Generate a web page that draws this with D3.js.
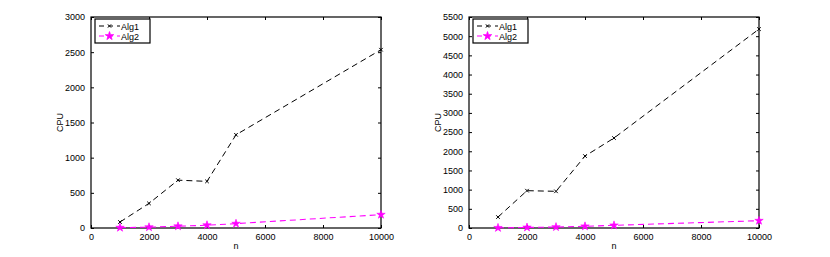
<!DOCTYPE html>
<html>
<head>
<meta charset="utf-8">
<script src="https://cdn.jsdelivr.net/npm/d3@7"></script>
<style>
body { margin: 0; background: #fff; }
text { font-family: "Liberation Sans", Arial, sans-serif; font-size: 9px; fill: #000; }
</style>
</head>
<body>
<svg id="chart" width="830" height="257"></svg>
<script>
var nValues = [1000, 2000, 3000, 4000, 5000, 10000];
var leftAlg1 = [85, 350, 680, 663, 1325, 2535];
var leftAlg2 = [5, 12, 25, 40, 62, 190];
var rightAlg1 = [285, 973, 956, 1875, 2345, 5185];
var rightAlg2 = [5, 15, 25, 45, 70, 190];
var xTicks = [0, 2000, 4000, 6000, 8000, 10000];
var leftYTicks = [0, 500, 1000, 1500, 2000, 2500, 3000];
var rightYTicks = [0, 500, 1000, 1500, 2000, 2500, 3000, 3500, 4000, 4500, 5000, 5500];

var svg = d3.select('#chart');
var fmt = d3.format('d');

function drawPanel(left, yMax, yTicks, alg1, alg2) {
	var top = 17, bottom = 228, w = 290;
	var x = d3.scaleLinear().domain([0, 10000]).range([left, left + w]);
	var y = d3.scaleLinear().domain([0, yMax]).range([bottom, top]);
	var g = svg.append('g');

	// box
	g.append('rect')
		.attr('x', left).attr('y', top)
		.attr('width', w).attr('height', bottom - top)
		.attr('fill', 'none').attr('stroke', '#000').attr('stroke-width', 1.2);

	// ticks (inside, all four sides)
	g.append('g').attr('transform', 'translate(0,' + bottom + ')')
		.call(d3.axisBottom(x).tickValues(xTicks).tickFormat(fmt).tickSizeInner(-3).tickSizeOuter(0).tickPadding(6))
		.call(function(a) { a.select('.domain').remove(); });
	g.append('g').attr('transform', 'translate(0,' + top + ')')
		.call(d3.axisTop(x).tickValues(xTicks).tickSizeInner(-3).tickSizeOuter(0).tickFormat(''))
		.call(function(a) { a.select('.domain').remove(); });
	g.append('g').attr('transform', 'translate(' + left + ',0)')
		.call(d3.axisLeft(y).tickValues(yTicks).tickFormat(fmt).tickSizeInner(-3).tickSizeOuter(0).tickPadding(6))
		.call(function(a) { a.select('.domain').remove(); });
	g.append('g').attr('transform', 'translate(' + (left + w) + ',0)')
		.call(d3.axisRight(y).tickValues(yTicks).tickSizeInner(-3).tickSizeOuter(0).tickFormat(''))
		.call(function(a) { a.select('.domain').remove(); });
	g.selectAll('.tick text').attr('font-size', 9).attr('font-family', '"Liberation Sans", Arial, sans-serif');

	// labels
	g.append('text').attr('x', left + w / 2).attr('y', 249).attr('text-anchor', 'middle').text('n');
	g.append('text')
		.attr('transform', 'translate(' + (left - 28) + ',' + ((top + bottom) / 2) + ') rotate(-90)')
		.attr('text-anchor', 'middle').text('CPU');

	var line = d3.line().x(function(d, i) { return x(nValues[i]); }).y(function(d) { return y(d); });

	g.append('path').datum(alg1).attr('d', line)
		.attr('fill', 'none').attr('stroke', '#000').attr('stroke-width', 1).attr('stroke-dasharray', '6,4');
	g.append('path').datum(alg2).attr('d', line)
		.attr('fill', 'none').attr('stroke', '#ff00ff').attr('stroke-width', 1.1).attr('stroke-dasharray', '6,4');

	var cross = d3.symbol().type(d3.symbolX).size(10);
	var star = d3.symbol().type(d3.symbolStar).size(22);

	g.selectAll('.m1').data(alg1).enter().append('path')
		.attr('transform', function(d, i) { return 'translate(' + x(nValues[i]) + ',' + y(d) + ')'; })
		.attr('d', cross).attr('fill', 'none').attr('stroke', '#000').attr('stroke-width', 1);
	g.selectAll('.m2').data(alg2).enter().append('path')
		.attr('transform', function(d, i) { return 'translate(' + x(nValues[i]) + ',' + y(d) + ')'; })
		.attr('d', star).attr('fill', '#ff00ff').attr('stroke', '#ff00ff').attr('stroke-width', 0.6);

	// legend
	var lx = left + 4, ly = 19;
	g.append('rect').attr('x', lx).attr('y', ly).attr('width', 55).attr('height', 24)
		.attr('fill', '#fff').attr('stroke', '#000').attr('stroke-width', 1.2);
	var items = [
		{ name: 'Alg1', color: '#000', sym: cross, fill: 'none' },
		{ name: 'Alg2', color: '#ff00ff', sym: star, fill: '#ff00ff' }
	];
	items.forEach(function(it, k) {
		var cy = ly + 7 + k * 10;
		g.append('line').attr('x1', lx + 4).attr('x2', lx + 25).attr('y1', cy).attr('y2', cy)
			.attr('stroke', it.color).attr('stroke-width', 1).attr('stroke-dasharray', '5,4');
		g.append('path').attr('transform', 'translate(' + (lx + 14.5) + ',' + cy + ')')
			.attr('d', it.sym).attr('fill', it.fill).attr('stroke', it.color).attr('stroke-width', 0.8);
		g.append('text').attr('x', lx + 26).attr('y', cy + 3.5).text(it.name);
	});
}

drawPanel(91, 3000, leftYTicks, leftAlg1, leftAlg2);
drawPanel(469, 5500, rightYTicks, rightAlg1, rightAlg2);
</script>
</body>
</html>
